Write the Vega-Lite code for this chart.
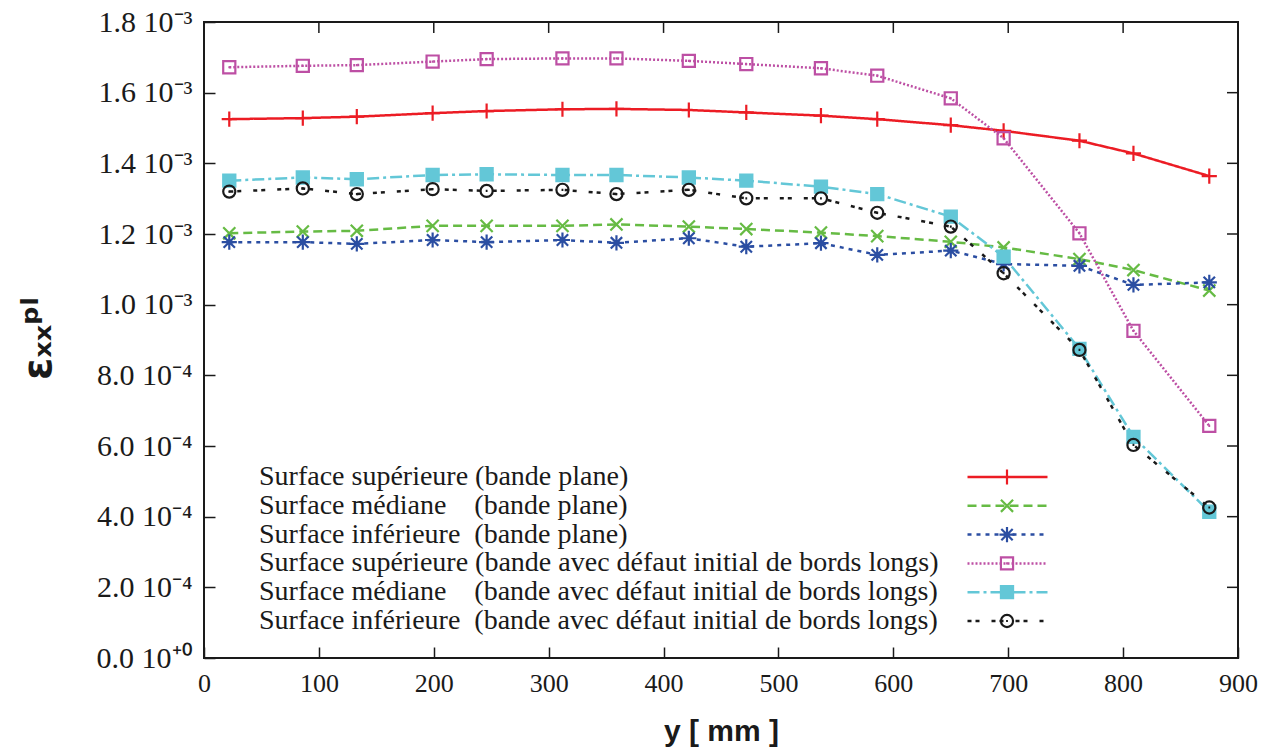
{
  "$schema": "https://vega.github.io/schema/vega-lite/v6.json",
  "width": 1034,
  "height": 636,
  "autosize": "none",
  "padding": {"left": 204, "top": 22, "right": 37, "bottom": 96},
  "background": "white",
  "config": {
    "view": {"stroke": "#1a1a1a", "strokeWidth": 2},
    "axis": {"grid": false, "domain": false, "tickColor": "#1a1a1a", "tickWidth": 1.5, "tickSize": -11, "labelFlush": false, "labelOverlap": false}
  },
  "data": {"values": [
    {"s":"1-sup-plane","pos":22,"eps":0.001525},{"s":"1-sup-plane","pos":86,"eps":0.001528},{"s":"1-sup-plane","pos":133,"eps":0.001532},{"s":"1-sup-plane","pos":199,"eps":0.001542},{"s":"1-sup-plane","pos":246,"eps":0.001548},{"s":"1-sup-plane","pos":312,"eps":0.001553},{"s":"1-sup-plane","pos":359,"eps":0.001554},{"s":"1-sup-plane","pos":422,"eps":0.001551},{"s":"1-sup-plane","pos":472,"eps":0.001544},{"s":"1-sup-plane","pos":537,"eps":0.001535},{"s":"1-sup-plane","pos":586,"eps":0.001525},{"s":"1-sup-plane","pos":650,"eps":0.001508},{"s":"1-sup-plane","pos":696,"eps":0.001492},{"s":"1-sup-plane","pos":762,"eps":0.001464},{"s":"1-sup-plane","pos":809,"eps":0.001428},{"s":"1-sup-plane","pos":875,"eps":0.001364},
    {"s":"2-med-plane","pos":22,"eps":0.001202},{"s":"2-med-plane","pos":86,"eps":0.001207},{"s":"2-med-plane","pos":133,"eps":0.001209},{"s":"2-med-plane","pos":199,"eps":0.001223},{"s":"2-med-plane","pos":246,"eps":0.001223},{"s":"2-med-plane","pos":312,"eps":0.001223},{"s":"2-med-plane","pos":359,"eps":0.001227},{"s":"2-med-plane","pos":422,"eps":0.001221},{"s":"2-med-plane","pos":472,"eps":0.001214},{"s":"2-med-plane","pos":537,"eps":0.001204},{"s":"2-med-plane","pos":586,"eps":0.001194},{"s":"2-med-plane","pos":650,"eps":0.001178},{"s":"2-med-plane","pos":696,"eps":0.001162},{"s":"2-med-plane","pos":762,"eps":0.001129},{"s":"2-med-plane","pos":809,"eps":0.001098},{"s":"2-med-plane","pos":875,"eps":0.001040},
    {"s":"3-inf-plane","pos":22,"eps":0.001177},{"s":"3-inf-plane","pos":86,"eps":0.001177},{"s":"3-inf-plane","pos":133,"eps":0.001172},{"s":"3-inf-plane","pos":199,"eps":0.001183},{"s":"3-inf-plane","pos":246,"eps":0.001177},{"s":"3-inf-plane","pos":312,"eps":0.001183},{"s":"3-inf-plane","pos":359,"eps":0.001175},{"s":"3-inf-plane","pos":422,"eps":0.001188},{"s":"3-inf-plane","pos":472,"eps":0.001164},{"s":"3-inf-plane","pos":537,"eps":0.001174},{"s":"3-inf-plane","pos":586,"eps":0.001141},{"s":"3-inf-plane","pos":650,"eps":0.001153},{"s":"3-inf-plane","pos":696,"eps":0.001115},{"s":"3-inf-plane","pos":762,"eps":0.001110},{"s":"3-inf-plane","pos":809,"eps":0.001056},{"s":"3-inf-plane","pos":875,"eps":0.001063},
    {"s":"4-sup-defaut","pos":22,"eps":0.001672},{"s":"4-sup-defaut","pos":86,"eps":0.001676},{"s":"4-sup-defaut","pos":133,"eps":0.001678},{"s":"4-sup-defaut","pos":199,"eps":0.001688},{"s":"4-sup-defaut","pos":246,"eps":0.001695},{"s":"4-sup-defaut","pos":312,"eps":0.001697},{"s":"4-sup-defaut","pos":359,"eps":0.001697},{"s":"4-sup-defaut","pos":422,"eps":0.001690},{"s":"4-sup-defaut","pos":472,"eps":0.001681},{"s":"4-sup-defaut","pos":537,"eps":0.001669},{"s":"4-sup-defaut","pos":586,"eps":0.001648},{"s":"4-sup-defaut","pos":650,"eps":0.001584},{"s":"4-sup-defaut","pos":696,"eps":0.001471},{"s":"4-sup-defaut","pos":762,"eps":0.001202},{"s":"4-sup-defaut","pos":809,"eps":0.000926},{"s":"4-sup-defaut","pos":875,"eps":0.000657},
    {"s":"5-med-defaut","pos":22,"eps":0.001351},{"s":"5-med-defaut","pos":86,"eps":0.001360},{"s":"5-med-defaut","pos":133,"eps":0.001355},{"s":"5-med-defaut","pos":199,"eps":0.001367},{"s":"5-med-defaut","pos":246,"eps":0.001369},{"s":"5-med-defaut","pos":312,"eps":0.001367},{"s":"5-med-defaut","pos":359,"eps":0.001367},{"s":"5-med-defaut","pos":422,"eps":0.001360},{"s":"5-med-defaut","pos":472,"eps":0.001351},{"s":"5-med-defaut","pos":537,"eps":0.001334},{"s":"5-med-defaut","pos":586,"eps":0.001313},{"s":"5-med-defaut","pos":650,"eps":0.001249},{"s":"5-med-defaut","pos":696,"eps":0.001136},{"s":"5-med-defaut","pos":762,"eps":0.000875},{"s":"5-med-defaut","pos":809,"eps":0.000626},{"s":"5-med-defaut","pos":875,"eps":0.000414},
    {"s":"6-inf-defaut","pos":22,"eps":0.001320},{"s":"6-inf-defaut","pos":86,"eps":0.001329},{"s":"6-inf-defaut","pos":133,"eps":0.001313},{"s":"6-inf-defaut","pos":199,"eps":0.001327},{"s":"6-inf-defaut","pos":246,"eps":0.001322},{"s":"6-inf-defaut","pos":312,"eps":0.001325},{"s":"6-inf-defaut","pos":359,"eps":0.001313},{"s":"6-inf-defaut","pos":422,"eps":0.001325},{"s":"6-inf-defaut","pos":472,"eps":0.001301},{"s":"6-inf-defaut","pos":537,"eps":0.001301},{"s":"6-inf-defaut","pos":586,"eps":0.001260},{"s":"6-inf-defaut","pos":650,"eps":0.001221},{"s":"6-inf-defaut","pos":696,"eps":0.001089},{"s":"6-inf-defaut","pos":762,"eps":0.000872},{"s":"6-inf-defaut","pos":809,"eps":0.000603},{"s":"6-inf-defaut","pos":875,"eps":0.000426}
  ]},
  "layer": [
    {
      "mark": {"type": "line", "clip": false},
      "encoding": {
        "x": {"field": "pos", "type": "quantitative",
          "scale": {"domain": [0, 900], "nice": false, "zero": false},
          "axis": {"orient": "bottom", "values": [0,100,200,300,400,500,600,700,800,900],
            "labelFont": "Liberation Serif", "labelFontSize": 26, "labelColor": "#1a1a1a", "labelPadding": 23,
            "title": "y [ mm ]", "titleFont": "Liberation Sans", "titleFontSize": 30, "titleFontWeight": "bold", "titleColor": "#1a1a1a", "titlePadding": 20}},
        "y": {"field": "eps", "type": "quantitative",
          "scale": {"domain": [0, 0.0018], "nice": false, "zero": false},
          "axis": {"orient": "left", "values": [0,0.0002,0.0004,0.0006,0.0008,0.001,0.0012,0.0014,0.0016,0.0018],
            "labelExpr": "datum.value == 0 ? '0.0 10⁺⁰' : (datum.value < 0.00099 ? format(datum.value*10000, '.1f') + ' 10⁻⁴' : format(datum.value*1000, '.1f') + ' 10⁻³')",
            "labelFont": "Liberation Serif", "labelFontSize": 30, "labelColor": "#1a1a1a", "labelPadding": 23,
            "title": "εₓₓᵖˡ", "titleFont": "DejaVu Sans", "titleFontSize": 40, "titleFontWeight": "bold", "titleColor": "#1a1a1a",
            "titleX": -166, "titleY": 316, "titleBaseline": "middle", "titleAlign": "center", "titleAngle": 270}},
        "color": {"field": "s", "type": "nominal",
          "scale": {"domain": ["1-sup-plane","2-med-plane","3-inf-plane","4-sup-defaut","5-med-defaut","6-inf-defaut"],
                    "range": ["#ec1c24","#66bb44","#2b4ea2","#bd4fa4","#63c7d7","#1a1a1a"]},
          "legend": {"orient": "none", "legendX": 789.5, "legendY": 441, "title": null, "padding": 0,
            "symbolType": "M-10,0H10", "symbolSize": 64, "symbolStrokeWidth": 2.5,
            "labelFont": "Liberation Serif", "labelFontSize": 28, "labelColor": "#1a1a1a", "labelLimit": 2000,
            "labelAlign": "left", "labelOffset": -762.5, "rowPadding": 0.8,
            "labelExpr": "datum.value == '1-sup-plane' ? 'Surface supérieure (bande plane)' : datum.value == '2-med-plane' ? 'Surface médiane\u00a0\u00a0\u00a0 (bande plane)' : datum.value == '3-inf-plane' ? 'Surface inférieure\u00a0 (bande plane)' : datum.value == '4-sup-defaut' ? 'Surface supérieure (bande avec défaut initial de bords longs)' : datum.value == '5-med-defaut' ? 'Surface médiane\u00a0\u00a0\u00a0 (bande avec défaut initial de bords longs)' : 'Surface inférieure\u00a0 (bande avec défaut initial de bords longs)'"}},
        "strokeDash": {"field": "s", "type": "nominal",
          "scale": {"domain": ["1-sup-plane","2-med-plane","3-inf-plane","4-sup-defaut","5-med-defaut","6-inf-defaut"],
                    "range": [[1,0],[9,5],[4,5],[2,2],[12,4,3,4],[4,4,4,12]]}},
        "strokeWidth": {"field": "s", "type": "nominal",
          "scale": {"domain": ["1-sup-plane","2-med-plane","3-inf-plane","4-sup-defaut","5-med-defaut","6-inf-defaut"],
                    "range": [2.5,2.5,2.5,1.8,2.5,2.5]}, "legend": null}
      }
    },
    {
      "mark": {"type": "point", "size": 230, "strokeWidth": 2.2, "opacity": 1, "filled": false, "clip": false},
      "encoding": {
        "x": {"field": "pos", "type": "quantitative"},
        "y": {"field": "eps", "type": "quantitative"},
        "stroke": {"field": "s", "type": "nominal",
          "scale": {"range": ["#ec1c24","#66bb44","#2b4ea2","#bd4fa4","#63c7d7","#1a1a1a"]}},
        "shape": {"field": "s", "type": "nominal",
          "scale": {"range": [
            "M-1,0H1M0,-1V1",
            "M-0.8,-0.8L0.8,0.8M-0.8,0.8L0.8,-0.8",
            "M-1,0H1M0,-1V1M-0.75,-0.75L0.75,0.75M-0.75,0.75L0.75,-0.75",
            "M-0.8,-0.8H0.8V0.8H-0.8Z M-0.12,0H0.12",
            "M-0.8,-0.8H0.8V0.8H-0.8Z M-0.8,-0.55H0.8 M-0.8,-0.3H0.8 M-0.8,-0.05H0.8 M-0.8,0.2H0.8 M-0.8,0.45H0.8 M-0.8,0.7H0.8",
            "M0.8,0A0.8,0.8,0,1,1,-0.8,0A0.8,0.8,0,1,1,0.8,0Z M-0.12,0H0.12"]},
          "legend": {"orient": "none", "legendX": 789, "legendY": 441, "title": null, "padding": 0,
            "symbolSize": 230, "symbolStrokeWidth": 2.2, "symbolFillColor": "transparent",
            "labelFontSize": 28, "labelOpacity": 0, "labelLimit": 2000, "clipHeight": 28, "rowPadding": 0.8}}
      }
    },
    {
      "data": {"values": [{"t":100},{"t":200},{"t":300},{"t":400},{"t":500},{"t":600},{"t":700},{"t":800}]},
      "mark": {"type": "rule", "color": "#1a1a1a", "strokeWidth": 1.5},
      "encoding": {
        "x": {"field": "t", "type": "quantitative"},
        "y": {"datum": 0.0018, "type": "quantitative"},
        "y2": {"datum": 0.001769}
      }
    },
    {
      "data": {"values": [{"v":0.0002},{"v":0.0004},{"v":0.0006},{"v":0.0008},{"v":0.001},{"v":0.0012},{"v":0.0014},{"v":0.0016}]},
      "mark": {"type": "rule", "color": "#1a1a1a", "strokeWidth": 1.5},
      "encoding": {
        "y": {"field": "v", "type": "quantitative"},
        "x": {"datum": 900, "type": "quantitative"},
        "x2": {"datum": 890.4}
      }
    }
  ]
}
